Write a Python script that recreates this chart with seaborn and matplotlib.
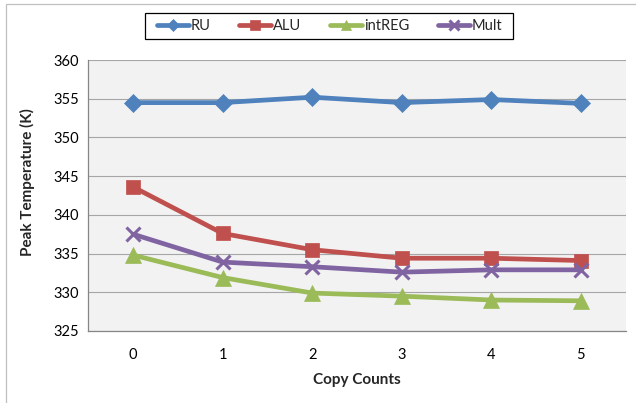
import matplotlib
matplotlib.use("Agg")
import matplotlib.pyplot as plt
from matplotlib.patches import Rectangle
import numpy as np
import pandas as pd
import seaborn as sns

# Peak temperature per functional unit vs. number of copies
copy_counts = [0, 1, 2, 3, 4, 5]
ru = [354.5, 354.5, 355.2, 354.5, 354.9, 354.4]
alu = [343.6, 337.6, 335.5, 334.4, 334.4, 334.1]
intreg = [334.8, 331.9, 329.9, 329.5, 329.0, 328.9]
mult = [337.5, 333.9, 333.3, 332.6, 332.9, 332.9]

series_names = ["RU", "ALU", "intREG", "Mult"]
series_values = [ru, alu, intreg, mult]
colors = {"RU": "#4F81BD", "ALU": "#C0504D", "intREG": "#9BBB59", "Mult": "#8064A2"}
markers = {"RU": "D", "ALU": "s", "intREG": "^", "Mult": "x"}
marker_sizes = {"RU": 9, "ALU": 10.5, "intREG": 11, "Mult": 10}

y_ticks = [325, 330, 335, 340, 345, 350, 355, 360]

sns.set_theme(style="white")
plt.rcParams["font.family"] = ["Lato", "DejaVu Sans"]

W, H = 636, 403
fig = plt.figure(figsize=(W / 100, H / 100), dpi=100)
ax = fig.add_axes([0.139, 0.1787, 0.8445, 0.6723])
ax.set_facecolor("#F2F2F2")

for name, vals in zip(series_names, series_values):
    df = pd.DataFrame({"Copy Counts": copy_counts, "Peak": vals})
    sns.lineplot(data=df, x="Copy Counts", y="Peak", ax=ax, color=colors[name],
                 marker=markers[name], markersize=marker_sizes[name],
                 linewidth=3.4, legend=False, label=name, zorder=3)

for line, name in zip(ax.lines, series_names):
    line.set_markeredgecolor(colors[name])
    line.set_markerfacecolor(colors[name])
    line.set_markeredgewidth(2.2 if name == "Mult" else 0.5)

ax.set_xlim(-0.5, 5.5)
ax.set_ylim(325, 360)
ax.set_xticks(copy_counts)
ax.set_xticklabels([str(c) for c in copy_counts])
ax.set_yticks(y_ticks)
ax.yaxis.grid(True, color="#A6A6A6", linewidth=0.8, zorder=1)
ax.xaxis.grid(False)
ax.set_axisbelow(True)

for side in ["top", "right"]:
    ax.spines[side].set_visible(False)
for side in ["left", "bottom"]:
    ax.spines[side].set_color("#868686")
    ax.spines[side].set_linewidth(0.9)

ax.tick_params(axis="both", length=0, labelsize=10.5, colors="#000000")
ax.tick_params(axis="y", pad=7)
ax.tick_params(axis="x", pad=12)
ax.set_xlabel("Copy Counts", fontsize=11, fontweight="bold", labelpad=8)
ax.set_ylabel("Peak Temperature (K)", fontsize=11, fontweight="bold")
ax.yaxis.set_label_coords(-0.0996, 0.55)

# legend entries without matplotlib's frame; a wider box is drawn around them
leg = fig.legend(handles=ax.lines, labels=series_names, loc="center",
                 bbox_to_anchor=(329.5 / W, 1 - 26 / H), ncol=4, frameon=False,
                 fontsize=10.5, handlelength=2.2, handletextpad=0.1,
                 columnspacing=2.0, borderpad=0.3, borderaxespad=0,
                 markerscale=0.7)
fig.patches.append(Rectangle((145 / W, 1 - 39 / H), 368 / W, 26 / H,
                             transform=fig.transFigure, fill=False,
                             edgecolor="#000000", linewidth=0.9))

# chart-area border
fig.patches.append(Rectangle((6 / W, -0.5), 2.0, 0.99 + 0.5, transform=fig.transFigure,
                             fill=False, edgecolor="#BFBFBF", linewidth=0.9))

fig.savefig("out.png", dpi=100, facecolor="white")
